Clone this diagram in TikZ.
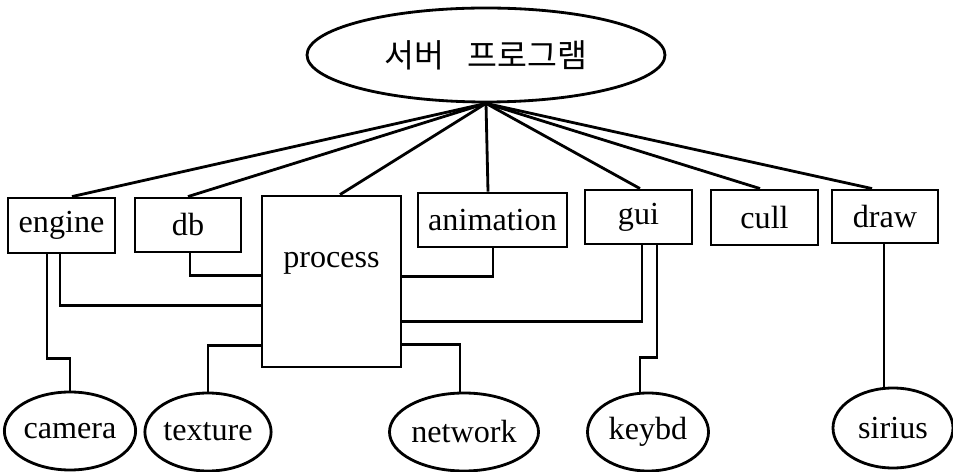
\documentclass[tikz,border=0pt]{standalone}
\usepackage{fontspec}
\setmainfont{Liberation Serif}
\newfontfamily\krfont{Noto Sans CJK KR}
\usetikzlibrary{shapes.geometric,calc}
% one drawing unit
\def\pu{0.02cm}
\tikzset{
  sz/.style 2 args={minimum width=#1*\pu, minimum height=#2*\pu},
  lbl/.style={font=\fontsize{18.3}{20}\selectfont},
  box/.style={draw, line width=1.6pt, inner sep=0pt, lbl},
  leaf/.style={draw, ellipse, line width=1.6pt, inner sep=0pt, sz={120}{78}, lbl},
  link/.style={line width=1.6pt},
}
\begin{document}
\begin{tikzpicture}[x=0.02cm, y=-0.02cm]
\useasboundingbox (0,0) rectangle (953,472);

% root
\node[draw, ellipse, line width=1.6pt, sz={358}{94}, inner sep=0pt,
      font=\krfont\fontsize{18.5}{21}\selectfont] (root) at (486,55) {서버\hspace{0.7em}프로그램};

% modules
\node[box, sz={107}{55}] (engine) at (61.5,225.5) {engine};
\node[box, sz={106}{54}] (db) at (188,225) {db};
\node[box, sz={139}{171}] (process) at (331.5,281.5) {};
\node[lbl] (proclabel) at ($(process.north)+(0,69)$) {process};
\node[box, sz={149}{54}] (animation) at (492.5,220) {animation};
\node[box, sz={107}{54}] (gui) at (638.5,217) {gui};
\node[box, sz={107}{55}] (cull) at (764.5,217.5) {cull};
\node[box, sz={106}{53}] (draw) at (885,216.5) {draw};

% leaves
\node[leaf] (camera) at (70,431) {camera};
\node[leaf] (texture) at (208,432) {texture};
\node[leaf, sz={118}{78}] (network) at (464,432) {network};
\node[leaf, sz={121}{78}] (keybd) at (648,432) {keybd};
\node[leaf, sz={120}{80}] (sirius) at (893,428) {sirius};

% fan from the root
\coordinate (hub) at (root.south);
\draw[link] (hub) -- ($(engine.north)+(10.5,0)$);
\draw[link] (hub) -- (db.north);
\draw[link] (hub) -- ($(process.north)+(8.5,0)$);
\draw[link] (hub) -- ($(animation.north)+(-4.5,0)$);
\draw[link] (hub) -- ($(gui.north)+(1.5,0)$);
\draw[link] (hub) -- ($(cull.north)+(-4.5,0)$);
\draw[link] (hub) -- ($(draw.north)+(-13,0)$);

% elbow links around process
\draw[link] ($(db.south)+(2,0)$) |- ($(process.north west)+(0,81)$);
\draw[link] ($(engine.south)+(-1.5,0)$) |- ($(process.north west)+(0,111)$);
\draw[link] ($(engine.south)+(-14.5,0)$) -- ++(0,104) -| (camera.north);
\draw[link] ($(process.north west)+(0,151)$) -| (texture.north);
\draw[link] ($(process.north east)+(0,150)$) -| ($(network.north)+(-4,0)$);
\draw[link] ($(process.north east)+(0,82)$) -| ($(animation.south)+(0.5,0)$);
\draw[link] ($(process.north east)+(0,127)$) -| ($(gui.south)+(3.5,0)$);
\draw[link] ($(gui.south)+(18.5,0)$) -- ++(0,112) -| ($(keybd.north)+(-8,0)$);
\draw[link] ($(draw.south)+(-1,0)$) -- ($(sirius.north)+(-9,0)$);
\end{tikzpicture}
\end{document}
